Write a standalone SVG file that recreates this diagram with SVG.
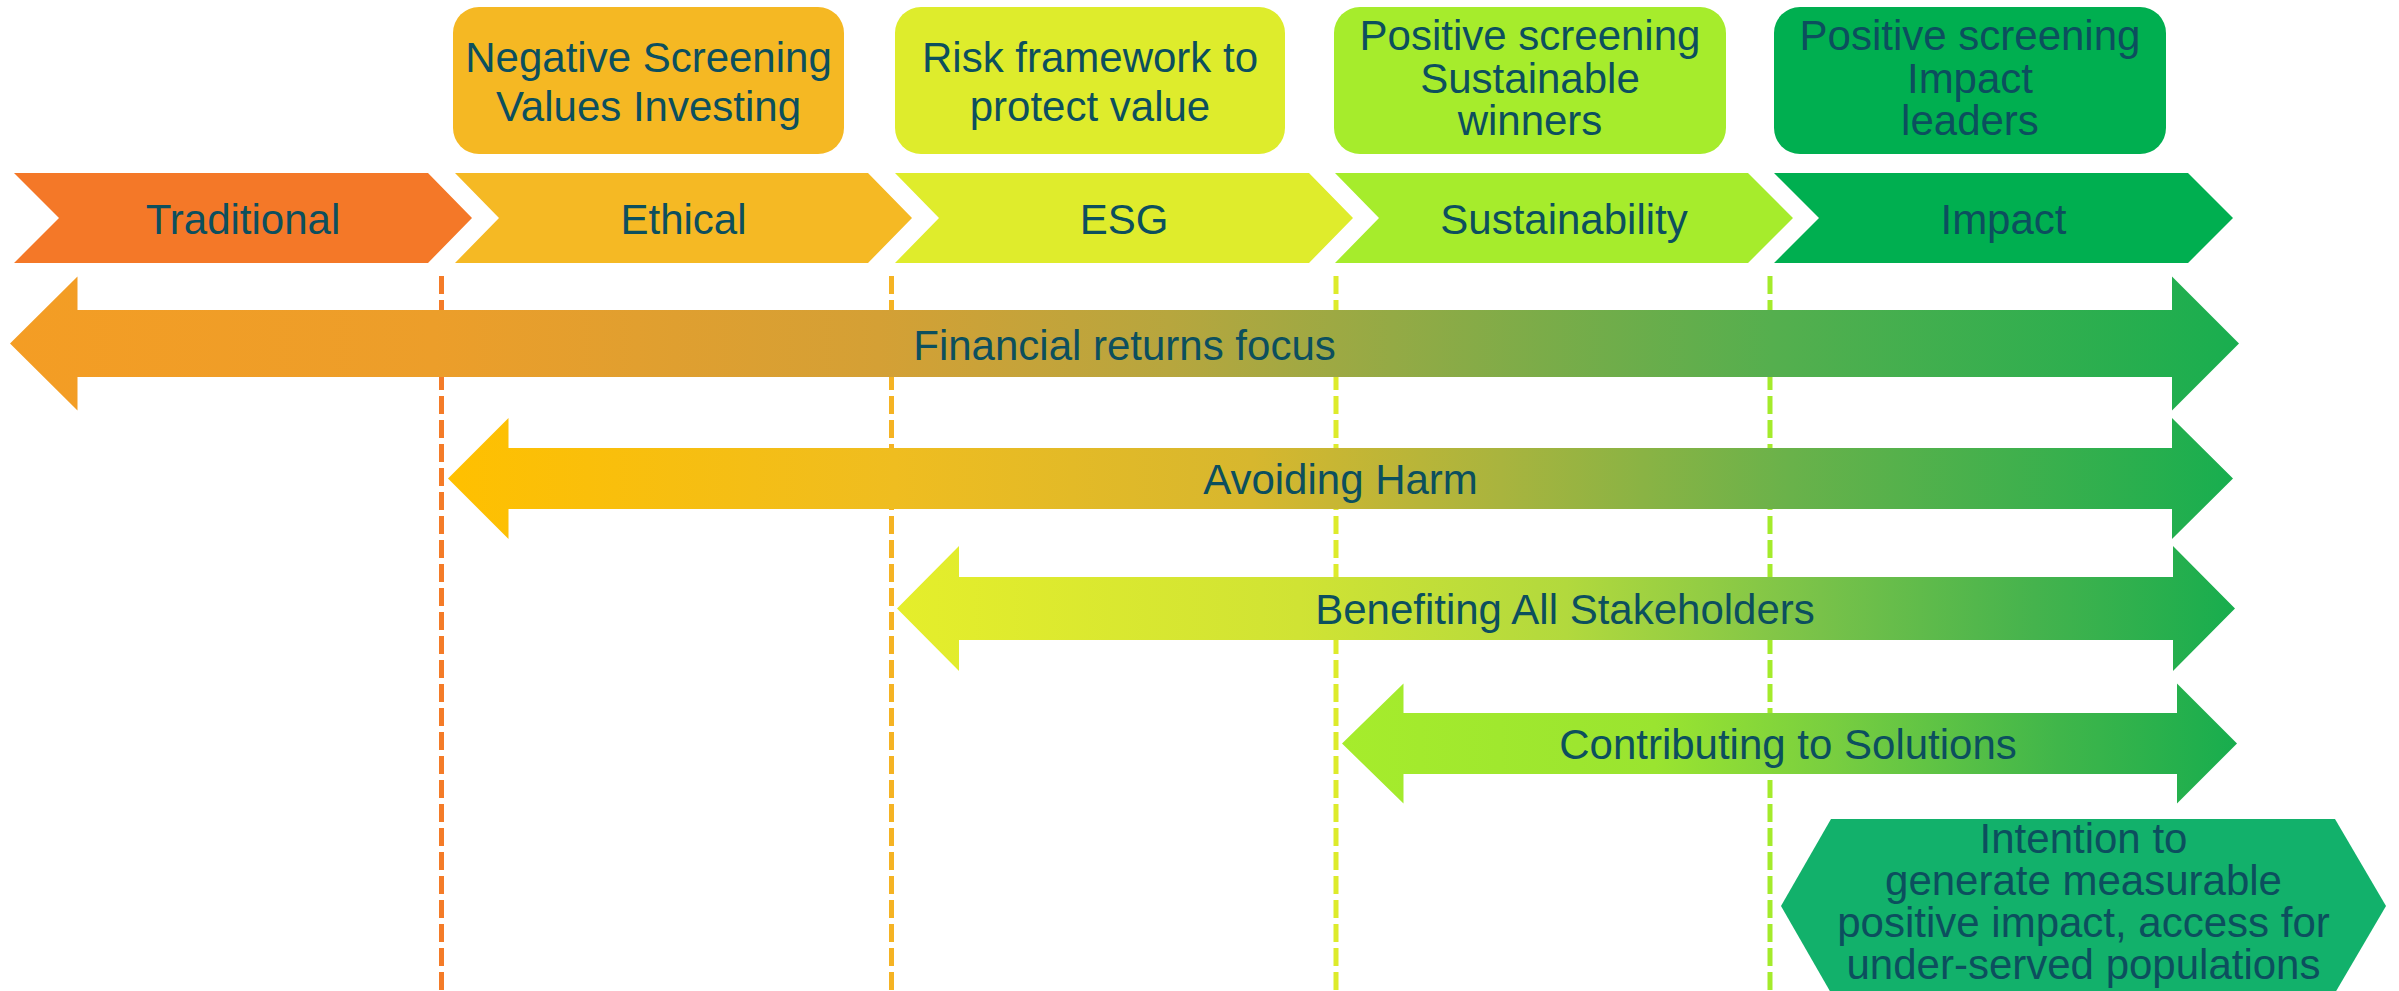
<svg xmlns="http://www.w3.org/2000/svg" width="2399" height="991" viewBox="0 0 2399 991">
  <style>
    text { font-family: "Liberation Sans", Arial, "DejaVu Sans", sans-serif; font-size: 42px; fill: #0C4F5E; text-anchor: middle; }
    .divider { fill: none; stroke-width: 5; stroke-dasharray: 18 6; }
  </style>
  <defs>
    <linearGradient id="gradFinancial" gradientUnits="userSpaceOnUse" x1="10" y1="0" x2="2239" y2="0">
      <stop offset="0" stop-color="#F49D24"/>
      <stop offset="0.19" stop-color="#EC9E2A"/>
      <stop offset="0.39" stop-color="#D4A035"/>
      <stop offset="0.52" stop-color="#B7A63E"/>
      <stop offset="0.62" stop-color="#94AA45"/>
      <stop offset="0.79" stop-color="#55AF4E"/>
      <stop offset="1" stop-color="#19AE4F"/>
    </linearGradient>
    <linearGradient id="gradHarm" gradientUnits="userSpaceOnUse" x1="448" y1="0" x2="2233" y2="0">
      <stop offset="0" stop-color="#FFC000"/>
      <stop offset="0.25" stop-color="#EFBD20"/>
      <stop offset="0.45" stop-color="#D7B72E"/>
      <stop offset="0.59" stop-color="#A9B43E"/>
      <stop offset="0.75" stop-color="#6AB24A"/>
      <stop offset="1" stop-color="#18AE4F"/>
    </linearGradient>
    <linearGradient id="gradStakeholders" gradientUnits="userSpaceOnUse" x1="897" y1="0" x2="2235" y2="0">
      <stop offset="0" stop-color="#E5EE2B"/>
      <stop offset="0.3" stop-color="#D0E334"/>
      <stop offset="0.5" stop-color="#B2D93D"/>
      <stop offset="0.69" stop-color="#78C249"/>
      <stop offset="0.85" stop-color="#45B34D"/>
      <stop offset="1" stop-color="#18AD4E"/>
    </linearGradient>
    <linearGradient id="gradSolutions" gradientUnits="userSpaceOnUse" x1="1342" y1="0" x2="2237" y2="0">
      <stop offset="0" stop-color="#A6EC2C"/>
      <stop offset="0.35" stop-color="#9AE430"/>
      <stop offset="0.55" stop-color="#78CE40"/>
      <stop offset="0.8" stop-color="#40B64A"/>
      <stop offset="1" stop-color="#18AD4E"/>
    </linearGradient>
  </defs>

  <rect width="2399" height="991" fill="#FFFFFF"/>

  <!-- dashed phase dividers (drawn beneath the arrows) -->
  <g id="connectors">
    <line class="divider" x1="441.5" y1="276" x2="441.5" y2="991" stroke="#F47B28"/>
    <line class="divider" x1="891.5" y1="276" x2="891.5" y2="991" stroke="#F5B323"/>
    <line class="divider" x1="1336" y1="276" x2="1336" y2="991" stroke="#DDEB2B"/>
    <line class="divider" x1="1770" y1="276" x2="1770" y2="991" stroke="#A4EB2B"/>
  </g>

  <!-- description boxes -->
  <g id="box-negative-screening">
    <rect x="453" y="7" width="391" height="147" rx="26" fill="#F5B823"/>
    <text x="648.5" y="72">Negative Screening</text>
    <text x="648.5" y="121">Values Investing</text>
  </g>
  <g id="box-risk-framework">
    <rect x="895" y="7" width="390" height="147" rx="26" fill="#DEEC2C"/>
    <text x="1090" y="72">Risk framework to</text>
    <text x="1090" y="121">protect value</text>
  </g>
  <g id="box-sustainable-winners">
    <rect x="1334" y="7" width="392" height="147" rx="26" fill="#A6EC2C"/>
    <text x="1530" y="50">Positive screening</text>
    <text x="1530" y="93">Sustainable</text>
    <text x="1530" y="135">winners</text>
  </g>
  <g id="box-impact-leaders">
    <rect x="1774" y="7" width="392" height="147" rx="26" fill="#00AF50"/>
    <text x="1970" y="50">Positive screening</text>
    <text x="1970" y="93">Impact</text>
    <text x="1970" y="135">leaders</text>
  </g>

  <!-- phase chevrons -->
  <g id="phase-traditional">
    <path d="M14,173 L428,173 L472,218 L428,263 L14,263 L59,218 Z" fill="#F47828"/>
    <text x="243" y="234">Traditional</text>
  </g>
  <g id="phase-ethical">
    <path d="M455,173 L868,173 L912,218 L868,263 L455,263 L499,218 Z" fill="#F5B924"/>
    <text x="683.5" y="234">Ethical</text>
  </g>
  <g id="phase-esg">
    <path d="M895,173 L1309,173 L1353,218 L1309,263 L895,263 L939,218 Z" fill="#DFEC2C"/>
    <text x="1124" y="234">ESG</text>
  </g>
  <g id="phase-sustainability">
    <path d="M1335,173 L1748,173 L1793,218 L1748,263 L1335,263 L1379,218 Z" fill="#A6EC2C"/>
    <text x="1564" y="234">Sustainability</text>
  </g>
  <g id="phase-impact">
    <path d="M1774,173 L2188,173 L2233,218 L2188,263 L1774,263 L1819,218 Z" fill="#00AF50"/>
    <text x="2003.5" y="234">Impact</text>
  </g>

  <!-- double-headed scope arrows -->
  <g id="arrow-financial-returns">
    <path d="M10,343.5 L77.5,276.5 L77.5,310 L2172,310 L2172,276.5 L2239,343.5 L2172,410.5 L2172,377 L77.5,377 L77.5,410.5 Z" fill="url(#gradFinancial)"/>
    <text x="1124.5" y="360">Financial returns focus</text>
  </g>
  <g id="arrow-avoiding-harm">
    <path d="M448,478.5 L508.5,418 L508.5,448 L2172,448 L2172,418 L2233,478.5 L2172,539 L2172,509 L508.5,509 L508.5,539 Z" fill="url(#gradHarm)"/>
    <text x="1340.5" y="494">Avoiding Harm</text>
  </g>
  <g id="arrow-benefiting-stakeholders">
    <path d="M897,608.5 L959,546 L959,577 L2173,577 L2173,546 L2235,608.5 L2173,671 L2173,640 L959,640 L959,671 Z" fill="url(#gradStakeholders)"/>
    <text x="1565" y="624">Benefiting All Stakeholders</text>
  </g>
  <g id="arrow-contributing-solutions">
    <path d="M1342,743.5 L1403.5,683.5 L1403.5,713 L2177,713 L2177,683.5 L2237,743.5 L2177,803.5 L2177,774 L1403.5,774 L1403.5,803.5 Z" fill="url(#gradSolutions)"/>
    <text x="1788" y="759">Contributing to Solutions</text>
  </g>

  <!-- impact intention hexagon -->
  <g id="impact-intention">
    <path d="M1831,819 L2335,819 L2386,906 L2335,993 L1831,993 L1781,906 Z" fill="#12B16B"/>
    <text x="2083.5" y="853">Intention to</text>
    <text x="2083.5" y="895">generate measurable</text>
    <text x="2083.5" y="937">positive impact, access for</text>
    <text x="2083.5" y="979">under-served populations</text>
  </g>
</svg>
